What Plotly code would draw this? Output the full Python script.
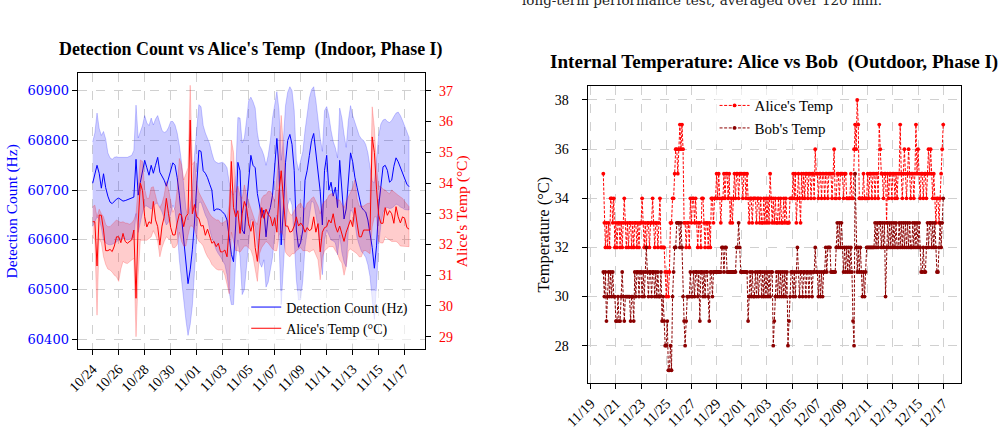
import pandas as pd
import plotly.graph_objects as go

# ---------------- Left panel data (4-hour samples from 10/24 00:00) ----------------
det_mean = [
    60714, 60730, 60750, 60734, 60704, 60733, 60705, 60688, 60676, 60673, 60678, 60682,
    60684, 60680, 60678, 60679, 60681, 60683, 60684, 60686, 60762, 60690, 60716, 60736,
    60760, 60745, 60730, 60750, 60734, 60750, 60766, 60736, 60728, 60720, 60708, 60725,
    60743, 60755, 60750, 60725, 60690, 60645, 60595, 60550, 60512, 60540, 60580, 60636,
    60700, 60780, 60778, 60739, 60734, 60725, 60712, 60700, 60658, 60662, 60662, 60660,
    60656, 60651, 60640, 60600, 60571, 60556, 60630, 60756, 60739, 60620, 60612, 60670,
    60728, 60770, 60750, 60745, 60693, 60670, 60645, 60660, 60606, 60650, 60665, 60690,
    60745, 60804, 60740, 60590, 60660, 60755, 60800, 60812, 60792, 60740, 60620, 60585,
    60595, 60620, 60720, 60740, 60770, 60800, 60814, 60772, 60728, 60698, 60630, 60740,
    60770, 60700, 60716, 60688, 60706, 60665, 60760, 60690, 60642, 60662, 60720, 60775,
    60757, 60726, 60706, 60688, 60666, 60660, 60656, 60640, 60615, 60585, 60543, 60588,
    60668, 60715, 60747, 60750, 60740, 60716, 60720, 60748, 60765, 60757, 60745, 60732,
    60720, 60712, 60707,
]
det_upper = [
    60797, 60815, 60855, 60824, 60810, 60818, 60803, 60775, 60765, 60762, 60766, 60767,
    60766, 60766, 60766, 60766, 60766, 60768, 60770, 60780, 60871, 60805, 60818, 60830,
    60850, 60835, 60830, 60845, 60831, 60843, 60850, 60835, 60820, 60816, 60818, 60826,
    60838, 60838, 60831, 60815, 60790, 60756, 60710, 60665, 60640, 60670, 60700, 60770,
    60830, 60872, 60868, 60830, 60815, 60803, 60793, 60775, 60760, 60756, 60754, 60755,
    60756, 60752, 60745, 60716, 60698, 60690, 60730, 60846, 60845, 60795, 60805, 60840,
    60880, 60887, 60878, 60865, 60815, 60790, 60782, 60770, 60750, 60770, 60800, 60845,
    60875, 60898, 60860, 60760, 60800, 60870, 60897, 60908, 60900, 60860, 60760, 60740,
    60760, 60778, 60820, 60855, 60885, 60902, 60908, 60880, 60840, 60805, 60778, 60860,
    60868, 60850, 60820, 60798, 60785, 60765, 60865, 60845, 60812, 60786, 60840, 60870,
    60850, 60838, 60825, 60810, 60803, 60800, 60792, 60775, 60746, 60718, 60715, 60758,
    60810, 60833, 60841, 60843, 60838, 60836, 60840, 60848, 60855, 60857, 60850, 60840,
    60828, 60818, 60806,
]
det_lower = [
    60627, 60637, 60646, 60642, 60625, 60600, 60594, 60591, 60590, 60591, 60593, 60596,
    60600, 60602, 60603, 60602, 60600, 60601, 60602, 60605, 60653, 60615, 60635, 60655,
    60668, 60668, 60665, 60662, 60668, 60673, 60674, 60665, 60656, 60645, 60630, 60636,
    60650, 60670, 60660, 60620, 60560, 60520, 60478, 60440, 60408, 60430, 60468, 60530,
    60600, 60675, 60676, 60664, 60650, 60641, 60620, 60604, 60593, 60580, 60572, 60566,
    60559, 60550, 60530, 60495, 60470, 60470, 60560, 60600, 60566, 60490, 60500, 60550,
    60593, 60640, 60640, 60625, 60590, 60555, 60545, 60560, 60505, 60515, 60540, 60565,
    60610, 60650, 60600, 60470, 60530, 60620, 60670, 60684, 60670, 60600, 60520, 60479,
    60480, 60520, 60586, 60620, 60650, 60678, 60675, 60650, 60625, 60580, 60530, 60600,
    60620, 60610, 60600, 60598, 60594, 60570, 60610, 60575, 60555, 60546, 60620, 60660,
    60656, 60635, 60605, 60590, 60577, 60572, 60565, 60550, 60526, 60480, 60440, 60510,
    60590, 60630, 60655, 60663, 60665, 60663, 60664, 60667, 60672, 60670, 60666, 60664,
    60661, 60660, 60660,
]
alice_in_mean = [
    32.74, 32.74, 31.30, 32.96, 32.95, 32.47, 31.80, 31.80, 31.84, 31.77, 31.95, 32.25,
    32.25, 32.06, 32.36, 32.10, 32.04, 32.10, 32.15, 32.47, 30.25, 32.70, 34.00, 33.75,
    32.90, 32.57, 32.74, 32.68, 33.40, 32.80, 32.58, 31.98, 32.60, 32.90, 33.50, 33.00,
    32.55, 32.31, 32.31, 32.70, 33.00, 32.96, 32.58, 32.90, 33.00, 36.05, 33.00, 33.30,
    32.90, 32.85, 32.60, 32.62, 32.30, 32.50, 32.30, 32.04, 32.10, 31.93, 32.04, 31.76,
    31.76, 31.82, 31.60, 32.60, 34.70, 33.20, 32.90, 33.10, 32.36, 33.00, 33.40, 33.20,
    32.67, 32.43, 32.75, 31.90, 31.45, 32.50, 33.20, 32.85, 33.15, 32.97, 32.90, 32.60,
    32.87, 32.40, 33.70, 34.40, 33.60, 32.60, 32.60, 32.40, 32.43, 32.60, 32.90, 32.60,
    32.70, 32.60, 32.40, 32.55, 32.45, 32.50, 32.90, 32.40, 32.68, 31.76, 32.40, 32.55,
    32.58, 32.80, 32.70, 33.00, 32.60, 32.40, 32.60, 32.35, 32.10, 32.40, 32.58, 32.80,
    32.58, 33.20, 32.70, 32.25, 32.25, 32.47, 32.47, 32.47, 32.47, 35.50, 35.00, 33.80,
    32.95, 32.69, 32.69, 33.20, 32.95, 33.10, 33.00, 32.69, 33.23, 32.90, 32.70, 32.90,
    32.85, 32.55, 32.50,
]
alice_in_upper = [
    33.23, 33.28, 32.90, 33.15, 33.00, 32.90, 32.65, 32.58, 32.58, 32.65, 32.70, 32.80,
    32.75, 32.72, 32.74, 32.70, 32.69, 32.66, 32.70, 32.80, 33.00, 33.80, 34.75, 34.70,
    33.80, 33.50, 33.50, 33.85, 33.88, 33.60, 33.30, 33.20, 33.34, 33.60, 34.05, 33.80,
    33.45, 33.05, 33.20, 33.80, 34.80, 34.60, 34.10, 34.30, 34.50, 37.18, 34.60, 34.70,
    34.00, 33.70, 33.55, 33.45, 33.25, 33.12, 33.00, 32.90, 32.85, 32.80, 32.80, 32.70,
    32.70, 32.75, 32.80, 33.30, 35.40, 35.00, 33.70, 33.90, 33.60, 33.50, 33.94, 33.60,
    33.40, 33.20, 33.00, 32.75, 32.65, 33.10, 33.50, 33.60, 33.62, 33.73, 33.73, 33.60,
    33.40, 34.20, 35.00, 36.20, 35.20, 33.90, 33.20, 33.00, 32.95, 33.10, 33.20, 33.30,
    33.35, 33.20, 33.15, 33.35, 33.40, 33.50, 33.55, 33.40, 33.25, 33.00, 33.30, 33.40,
    33.45, 33.60, 33.65, 33.65, 33.50, 33.45, 33.45, 33.30, 33.20, 33.40, 33.55, 33.70,
    33.85, 34.10, 33.50, 33.25, 33.25, 33.25, 33.30, 33.34, 33.34, 36.48, 35.80, 34.50,
    33.90, 33.88, 33.80, 33.77, 33.70, 33.65, 33.77, 33.70, 33.66, 33.60, 33.55, 33.50,
    33.40, 33.30, 33.23,
]
alice_in_lower = [
    32.25, 32.15, 29.70, 32.20, 32.05, 31.60, 31.35, 31.20, 31.17, 31.10, 31.00, 30.95,
    30.80, 31.20, 31.45, 31.40, 31.38, 31.45, 31.50, 31.55, 29.00, 31.00, 32.14, 32.14,
    32.14, 32.14, 32.20, 32.25, 32.45, 32.30, 32.10, 31.60, 31.90, 32.10, 32.25, 32.20,
    32.14, 31.90, 31.90, 32.00, 32.40, 32.10, 31.95, 31.95, 32.30, 32.60, 32.60, 32.50,
    32.25, 32.10, 32.05, 31.95, 31.75, 31.60, 31.50, 31.35, 31.27, 31.20, 31.17, 31.17,
    31.17, 31.00, 30.70, 30.40, 32.40, 32.10, 31.80, 31.80, 31.75, 31.85, 31.95, 31.95,
    31.90, 31.82, 31.60, 31.20, 30.80, 31.70, 31.90, 32.00, 32.10, 32.05, 31.95, 31.85,
    31.80, 31.80, 32.30, 32.43, 32.30, 31.75, 31.65, 31.60, 31.70, 31.70, 31.80, 31.85,
    31.90, 31.80, 31.80, 31.80, 31.75, 31.80, 31.83, 31.70, 31.50, 30.85, 31.60, 31.80,
    31.85, 31.93, 31.93, 31.93, 31.80, 31.70, 31.50, 31.40, 31.00, 31.30, 31.80, 31.85,
    31.80, 31.75, 31.70, 31.60, 31.60, 31.80, 31.80, 31.75, 31.70, 32.58, 32.90, 32.90,
    32.10, 32.05, 32.05, 32.25, 32.20, 32.15, 32.10, 32.10, 32.10, 32.05, 31.95, 31.95,
    31.93, 31.93, 31.93,
]

left_ticks = ["10/24", "10/26", "10/28", "10/30", "11/01", "11/03", "11/05",
              "11/07", "11/09", "11/11", "11/13", "11/15", "11/17"]
det_ticks = [60400, 60500, 60600, 60700, 60800, 60900]
temp_ticks = [29, 30, 31, 32, 33, 34, 35, 36, 37]

# ---------------- Right panel data (2-hour samples from 11/20 00:00) ----------------
alice_out = [
    35, 33, 32, 33, 32, 33, 32, 34, 34, 33, 34, 32,
    33, 32, 33, 33, 32, 33, 32, 33, 34, 33, 32, 33,
    32, 33, 33, 32, 33, 32, 33, 33, 32, 33, 32, 33,
    33, 34, 33, 32, 33, 32, 33, 33, 32, 33, 33, 34,
    33, 32, 33, 33, 32, 33, 34, 32, 32, 32, 32, 31,
    30, 31, 30, 31, 33, 33, 34, 34, 35, 36, 36, 35,
    36, 37, 36, 37, 36, 33, 33, 32, 33, 33, 32, 34,
    33, 34, 34, 33, 34, 33, 32, 33, 33, 32, 34, 34,
    33, 32, 33, 33, 32, 33, 32, 34, 34, 33, 34, 34,
    35, 34, 35, 34, 33, 34, 34, 35, 34, 35, 35, 34,
    35, 33, 34, 33, 34, 35, 34, 35, 35, 34, 35, 35,
    35, 34, 35, 35, 34, 35, 34, 33, 34, 34, 33, 34,
    34, 34, 33, 34, 34, 33, 34, 33, 33, 34, 33, 34,
    33, 34, 33, 35, 34, 33, 34, 33, 34, 33, 33, 34,
    33, 34, 33, 33, 34, 33, 34, 33, 33, 33, 34, 34,
    34, 35, 34, 35, 33, 34, 35, 34, 33, 35, 34, 35,
    34, 35, 35, 34, 35, 35, 34, 35, 35, 34, 36, 35,
    35, 34, 35, 35, 34, 35, 35, 34, 35, 35, 34, 35,
    35, 35, 34, 35, 36, 34, 34, 35, 35, 34, 35, 35,
    35, 34, 35, 35, 34, 34, 34, 34, 35, 34, 34, 36,
    37, 36, 38, 37, 34, 34, 34, 34, 35, 34, 34, 34,
    35, 34, 35, 35, 34, 35, 35, 34, 35, 35, 34, 37,
    36, 35, 35, 34, 35, 35, 33, 35, 34, 35, 35, 34,
    35, 35, 34, 35, 34, 35, 35, 37, 35, 34, 35, 36,
    35, 34, 35, 36, 35, 34, 35, 35, 34, 35, 37, 35,
    36, 35, 34, 35, 35, 34, 35, 35, 34, 35, 36, 35,
    36, 35, 34, 35, 34, 33, 34, 34, 33, 34, 35, 36,
    37,
]
bob_out = [
    31, 30, 31, 29, 30, 31, 30, 31, 30, 31, 30, 30,
    29, 29, 30, 29, 29, 30, 31, 30, 29, 30, 30, 30,
    30, 30, 29, 30, 30, 29, 31, 30, 31, 31, 30, 31,
    31, 30, 31, 30, 31, 32, 31, 30, 31, 31, 30, 31,
    31, 30, 31, 30, 31, 30, 30, 31, 29, 30, 29, 28,
    28, 29, 27, 27, 28, 27, 30, 31, 32, 32, 33, 33,
    33, 32, 33, 32, 30, 29, 28, 29, 30, 30, 30, 31,
    30, 30, 31, 30, 31, 31, 30, 31, 29, 31, 31, 30,
    31, 30, 31, 31, 30, 29, 31, 31, 30, 31, 31, 31,
    31, 31, 31, 31, 31, 32, 32, 31, 32, 32, 31, 31,
    31, 31, 31, 31, 31, 31, 31, 32, 32, 33, 32, 31,
    31, 31, 31, 31, 31, 31, 29, 30, 31, 30, 31, 30,
    30, 31, 30, 31, 30, 31, 31, 30, 31, 30, 31, 30,
    31, 30, 31, 30, 31, 31, 28, 29, 30, 31, 30, 31,
    30, 31, 30, 31, 30, 31, 30, 31, 28, 29, 30, 31,
    31, 30, 31, 30, 31, 32, 31, 30, 31, 31, 30, 31,
    31, 30, 31, 31, 30, 31, 31, 30, 31, 31, 32, 31,
    31, 30, 31, 30, 31, 30, 31, 31, 32, 31, 32, 32,
    32, 31, 31, 31, 31, 31, 32, 33, 32, 33, 32, 33,
    32, 31, 32, 31, 32, 31, 32, 31, 32, 31, 29, 28,
    35, 32, 31, 32, 31, 32, 31, 30, 31, 30, 31, 32,
    32, 32, 32, 32, 32, 32, 32, 33, 32, 33, 32, 33,
    33, 32, 33, 32, 33, 30, 32, 33, 32, 33, 32, 33,
    32, 33, 32, 33, 32, 32, 33, 32, 33, 32, 33, 32,
    33, 32, 33, 32, 33, 32, 32, 33, 32, 33, 32, 33,
    32, 33, 32, 31, 31, 32, 31, 31, 32, 33, 32, 33,
    33, 32, 33, 32, 33, 32, 31, 31, 32, 33, 32, 33,
    34,
]
right_ticks = ["11/19", "11/21", "11/23", "11/25", "11/27", "11/29", "12/01", "12/03",
               "12/05", "12/07", "12/09", "12/11", "12/13", "12/15", "12/17"]
out_ticks = [28, 30, 32, 34, 36, 38]

# ---------------- Build figure ----------------
t_left = pd.date_range("2023-10-24 00:00", periods=len(det_mean), freq="4h")
t_right = pd.date_range("2023-11-20 00:00", periods=len(alice_out), freq="2h")

SERIF = "Liberation Serif"
fig = go.Figure()


def band(x, lo, hi, color, yaxis):
    xs = list(x) + list(x)[::-1]
    ys = list(hi) + list(lo)[::-1]
    return go.Scatter(x=xs, y=ys, fill="toself", fillcolor=color, mode="lines",
                      line=dict(color=color, width=1), hoverinfo="skip",
                      showlegend=False, xaxis="x", yaxis=yaxis)


fig.add_trace(band(t_left, det_lower, det_upper, "rgba(0,0,255,0.2)", "y"))
fig.add_trace(go.Scatter(x=t_left, y=det_mean, mode="lines", name="Detection Count (Hz)",
                         line=dict(color="#0000ff", width=1), xaxis="x", yaxis="y",
                         legend="legend"))
fig.add_trace(band(t_left, alice_in_lower, alice_in_upper, "rgba(255,0,0,0.2)", "y2"))
fig.add_trace(go.Scatter(x=t_left, y=alice_in_mean, mode="lines", name="Alice's Temp (°C)",
                         line=dict(color="#ff0000", width=1), xaxis="x", yaxis="y2",
                         legend="legend"))

fig.add_trace(go.Scatter(x=t_right, y=alice_out, mode="lines+markers", name="Alice's Temp",
                         line=dict(color="#ff0000", width=1, dash="3px,1.6px"),
                         marker=dict(size=3.8, color="#ff0000"),
                         xaxis="x2", yaxis="y3", legend="legend2"))
fig.add_trace(go.Scatter(x=t_right, y=bob_out, mode="lines+markers", name="Bob's Temp",
                         line=dict(color="#8b0000", width=1, dash="3px,1.6px"),
                         marker=dict(size=3.8, color="#8b0000"),
                         xaxis="x2", yaxis="y3", legend="legend2"))

grid = dict(showgrid=True, gridcolor="#d0d0d0", griddash="dash", gridwidth=1)
frame = dict(showline=True, linecolor="black", linewidth=1.3, ticks="outside",
             ticklen=5, tickwidth=1, tickcolor="black", zeroline=False,
             automargin=False)

left_tickvals = pd.date_range("2023-10-24", periods=len(left_ticks), freq="2D")
right_tickvals = pd.date_range("2023-11-19", periods=len(right_ticks), freq="2D")

fig.update_layout(
    width=1005, height=435, margin=dict(l=0, r=0, t=0, b=0),
    paper_bgcolor="white", plot_bgcolor="white",
    font=dict(family=SERIF, size=13, color="black"),
    xaxis=dict(domain=[0.0773, 0.4229], type="date",
               range=["2023-10-22 20:18", "2023-11-18 13:30"],
               tickmode="array", tickvals=left_tickvals, ticktext=left_ticks,
               tickangle=-45, tickfont=dict(size=14), mirror=True, anchor="y",
               **grid, **frame),
    yaxis=dict(domain=[0.197, 0.8315], range=[60380, 60935],
               tickmode="array", tickvals=det_ticks, ticktext=[str(v) for v in det_ticks],
               tickfont=dict(color="#0000ff", size=13, family="DejaVu Serif"),
               title=dict(text="Detection Count (Hz)", font=dict(color="#0000ff", size=15.5),
                          standoff=6),
               anchor="x", **grid, **frame),
    yaxis2=dict(domain=[0.197, 0.8315], range=[28.59, 37.57], overlaying="y", side="right",
                anchor="x", tickmode="array", tickvals=temp_ticks,
                ticktext=[str(v) for v in temp_ticks],
                tickfont=dict(color="#ff0000", size=14), ticklabelstandoff=5,
                title=dict(text="Alice's Temp (°C)", font=dict(color="#ff0000", size=15.5),
                           standoff=4),
                showgrid=False, **frame),
    xaxis2=dict(domain=[0.5848, 0.9562], type="date",
                range=["2023-11-18 18:17", "2023-12-18 09:50"],
                tickmode="array", tickvals=right_tickvals, ticktext=right_ticks,
                tickangle=-45, tickfont=dict(size=14.5), mirror=True, anchor="y3",
                **grid, **frame),
    yaxis3=dict(domain=[0.1189, 0.8023], range=[26.47, 38.57], anchor="x2",
                tickmode="array", tickvals=out_ticks, ticktext=[str(v) for v in out_ticks],
                tickfont=dict(size=14), ticklabelstandoff=10,
                title=dict(text="Temperature (°C)", font=dict(size=16.5), standoff=0),
                mirror=True, **grid, **frame),
    legend=dict(x=0.245, y=0.33, xanchor="left", yanchor="top",
                bgcolor="rgba(255,255,255,0.6)", borderwidth=0,
                font=dict(size=14), tracegroupgap=0, itemwidth=30),
    legend2=dict(x=0.711, y=0.795, xanchor="left", yanchor="top",
                 bgcolor="rgba(255,255,255,0.6)", borderwidth=0,
                 font=dict(size=15), tracegroupgap=0, itemwidth=30),
    showlegend=True,
)

fig.add_annotation(text="<b>Detection Count vs Alice's Temp \u00a0(Indoor, Phase I)</b>",
                   xref="paper", yref="paper", x=251 / 1005, y=1 - 50 / 435,
                   xanchor="center", yanchor="middle", showarrow=False,
                   font=dict(family=SERIF, size=17.9, color="black"))
fig.add_annotation(text="<b>Internal Temperature: Alice vs Bob \u00a0(Outdoor, Phase I)</b>",
                   xref="paper", yref="paper", x=773.5 / 1005, y=1 - 62 / 435,
                   xanchor="center", yanchor="middle", showarrow=False,
                   font=dict(family=SERIF, size=19.1, color="black"))
fig.add_annotation(text="long-term performance test, averaged over 120 min.",
                   xref="paper", yref="paper", x=520 / 1005, y=1 - 10 / 435,
                   xanchor="left", yanchor="bottom", showarrow=False,
                   font=dict(family="DejaVu Serif", size=13.5, color="#222222"))

fig.write_html("out.html")
